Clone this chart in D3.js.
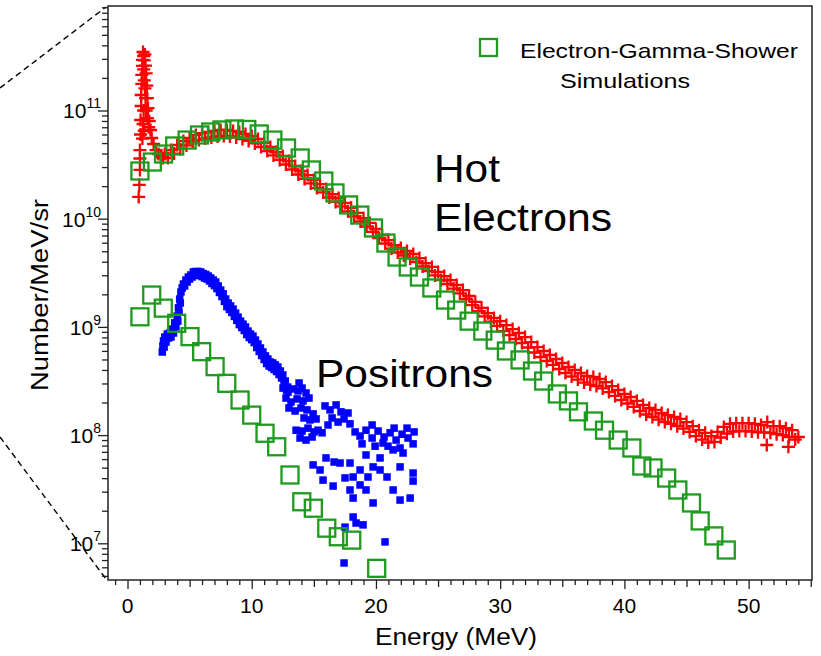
<!DOCTYPE html>
<html>
<head>
<meta charset="utf-8">
<script src="https://cdn.jsdelivr.net/npm/d3@7"></script>
<style>
body { margin: 0; background: #fff; }
text { font-family: "Liberation Sans", Arial, Helvetica, sans-serif; fill: #000; }
</style>
</head>
<body>
<div id="chart"></div>
<script>
// measured hot electrons [energy MeV, number/MeV/sr]
var electrons = [
  [0.90,1.59e10],[0.95,2.05e10],[1.00,2.82e10],[1.00,3.6e10],[1.00,4.31e10],[1.05,6.0e10],[1.05,8.17e10],[1.10,1.1e11],
  [1.10,1.39e11],[1.15,1.76e11],[1.15,2.13e11],[1.20,2.58e11],[1.20,2.93e11],[1.25,3.47e11],
  [1.30,3.19e11],[1.35,2.9e11],[1.40,3.3e11],[1.45,2.6e11],[1.50,2.2e11],[1.30,2.4e11],[1.35,1.9e11],[1.40,1.6e11],
  [1.45,1.3e11],[1.30,1.0e11],[1.25,7.5e10],[1.35,6.5e10],[1.20,5.5e10],[1.50,1.0e11],[1.55,1.7e11],[1.60,1.3e11],
  [1.60,8.5e10],[1.65,1.05e11],[1.70,7.0e10],[1.75,8.0e10],
  [1.85,6.6e10],[1.95,5.57e10],[2.10,4.9e10],[2.30,4.31e10],[2.50,3.96e10],[2.70,3.72e10],[2.85,3.64e10],
  [3.00,3.96e10],[3.25,3.64e10],[3.50,4.32e10],[3.75,4.00e10],[4.00,4.80e10],[4.25,4.41e10],[4.50,5.23e10],[4.75,4.75e10],
  [5.00,5.57e10],[5.25,5.06e10],[5.50,5.94e10],[5.75,5.33e10],[6.00,6.19e10],[6.25,5.51e10],[6.50,6.33e10],[6.75,5.63e10],
  [7.00,6.47e10],[7.25,5.75e10],[7.50,6.61e10],[7.75,5.81e10],[8.00,6.61e10],[8.25,5.75e10],[8.50,6.47e10],[8.75,5.63e10],
  [9.00,6.33e10],[9.25,5.45e10],[9.50,6.07e10],[9.75,5.23e10],[10.00,5.81e10],[10.25,4.96e10],[10.50,5.45e10],[10.75,4.60e10],
  [11.00,5.01e10],[11.25,4.22e10],[11.50,4.60e10],[11.75,3.84e10],[12.00,4.13e10],[12.25,3.49e10],[12.50,3.80e10],[12.75,3.17e10],
  [13.00,3.41e10],[13.25,2.85e10],[13.50,3.07e10],[13.75,2.56e10],[14.00,2.76e10],[14.25,2.33e10],[14.50,2.53e10],[14.75,2.12e10],
  [15.00,2.28e10],[15.25,1.92e10],[15.50,2.09e10],[15.75,1.75e10],[16.00,1.88e10],[16.25,1.57e10],[16.50,1.69e10],[16.75,1.43e10],
  [17.00,1.55e10],[17.25,1.30e10],[17.50,1.40e10],[17.75,1.17e10],[18.00,1.26e10],[18.25,1.05e10],[18.50,1.13e10],[18.75,9.42e9],
  [19.00,1.01e10],[19.25,8.47e9],[19.50,9.13e9],[19.75,7.54e9],[20.00,8.03e9],[20.25,6.63e9],[20.50,7.07e9],[20.75,5.90e9],
  [21.00,6.35e9],[21.25,5.30e9],[21.50,5.71e9],[21.75,4.87e9],[22.00,5.36e9],[22.25,4.57e9],[22.50,5.03e9],[22.75,4.29e9],
  [23.00,4.72e9],[23.25,3.98e9],[23.50,4.33e9],[23.75,3.62e9],[24.00,3.89e9],[24.25,3.28e9],[24.50,3.58e9],[24.75,2.99e9],
  [25.00,3.22e9],[25.25,2.71e9],[25.50,2.95e9],[25.75,2.49e9],[26.00,2.71e9],[26.25,2.26e9],[26.50,2.44e9],[26.75,2.04e9],
  [27.00,2.19e9],[27.25,1.81e9],[27.50,1.93e9],[27.75,1.59e9],[28.00,1.70e9],[28.25,1.40e9],[28.50,1.50e9],[28.75,1.25e9],
  [29.00,1.34e9],[29.25,1.12e9],[29.50,1.21e9],[29.75,1.02e9],[30.00,1.13e9],[30.25,9.15e8],[30.50,1.04e9],[30.75,8.41e8],
  [31.00,9.55e8],[31.25,7.73e8],[31.50,8.78e8],[31.75,7.10e8],[32.00,8.06e8],[32.25,6.45e8],[32.50,7.24e8],[32.75,5.80e8],
  [33.00,6.51e8],[33.25,5.27e8],[33.50,5.99e8],[33.75,4.84e8],[34.00,5.50e8],[34.25,4.45e8],[34.50,5.05e8],[34.75,4.08e8],
  [35.00,4.64e8],[35.25,3.75e8],[35.50,4.26e8],[35.75,3.48e8],[36.00,4.00e8],[36.25,3.26e8],[36.50,3.75e8],[36.75,3.06e8],
  [37.00,3.52e8],[37.25,2.93e8],[37.50,3.45e8],[37.75,2.84e8],[38.00,3.30e8],[38.25,2.70e8],[38.50,3.09e8],[38.75,2.50e8],
  [39.00,2.84e8],[39.25,2.30e8],[39.50,2.61e8],[39.75,2.11e8],[40.00,2.40e8],[40.25,1.96e8],[40.50,2.25e8],[40.75,1.82e8],
  [41.00,2.07e8],[41.25,1.67e8],[41.50,1.90e8],[41.75,1.55e8],[42.00,1.78e8],[42.25,1.47e8],[42.50,1.71e8],[42.75,1.39e8],
  [43.00,1.60e8],[43.25,1.32e8],[43.50,1.53e8],[43.75,1.27e8],[44.00,1.47e8],[44.25,1.21e8],[44.50,1.41e8],[44.75,1.15e8],
  [45.00,1.32e8],[45.25,1.07e8],[45.50,1.21e8],[45.75,9.80e7],[46.00,1.11e8],[46.25,9.10e7],[46.50,1.05e8],[46.75,8.54e7],
  [47.00,9.80e7],[47.25,8.64e7],[47.50,1.07e8],[47.75,9.50e7],[48.00,1.19e8],[48.25,1.03e8],[48.50,1.27e8],[48.75,1.08e8],
  [49.00,1.29e8],[49.25,1.09e8],[49.50,1.29e8],[49.75,1.09e8],[50.00,1.29e8],[50.25,1.08e8],[50.50,1.27e8],[50.75,1.06e8],
  [51.00,1.24e8],[51.25,1.06e8],[51.50,1.32e8],[51.75,1.05e8],[52.00,1.21e8],[52.25,1.02e8],[52.50,1.21e8],[52.75,1.00e8],
  [53.00,1.16e8],[53.25,9.60e7],[53.50,1.11e8],[53.75,9.10e7],[54.00,9.60e7],[51.46,8.1e7],[53.20,7.8e7]
];

// measured positrons
var positrons = [
  [2.80,5.86e8],[2.85,6.66e8],[2.90,7.41e8],[2.95,6.51e8],[3.00,8.06e8],[3.10,7.24e8],[3.20,8.59e8],[3.30,7.89e8],
  [3.40,8.78e8],[3.50,8.06e8],[3.60,9.55e8],[3.70,8.78e8],[3.80,1.09e9],[3.90,1.0e9],[4.00,1.26e9],[4.05,1.13e9],
  [4.10,1.50e9],[4.15,1.37e9],[4.20,1.81e9],[4.25,1.66e9],[4.30,2.10e9],[4.40,2.29e9],[4.50,2.49e9],[4.60,2.39e9],
  [4.70,2.71e9],[4.80,2.60e9],[4.90,2.89e9],[5.00,2.77e9],[5.10,3.02e9],[5.20,2.89e9],[5.30,3.22e9],[5.40,2.99e9],
  [5.50,3.25e9],[5.60,3.02e9],[5.70,3.25e9],[5.80,2.99e9],[5.90,3.22e9],[6.00,2.92e9],[6.10,3.11e9],[6.20,2.83e9],
  [6.30,3.05e9],[6.40,2.77e9],[6.50,2.95e9],[6.60,2.66e9],[6.70,2.83e9],[6.80,2.52e9],[6.90,2.71e9],[7.00,2.41e9],
  [7.10,2.60e9],[7.20,2.26e9],[7.30,2.39e9],[7.40,2.08e9],[7.50,2.19e9],[7.60,1.91e9],[7.70,2.02e9],[7.80,1.72e9],
  [7.90,1.81e9],[8.00,1.54e9],[8.10,1.66e9],[8.20,1.45e9],[8.30,1.56e9],[8.40,1.36e9],[8.50,1.46e9],[8.60,1.25e9],
  [8.70,1.34e9],[8.80,1.15e9],[8.90,1.23e9],[9.00,1.05e9],[9.10,1.13e9],[9.20,9.87e8],[9.30,1.06e9],[9.40,9.26e8],
  [9.50,9.98e8],[9.60,8.50e8],[9.70,9.15e8],[9.80,7.97e8],[9.90,8.59e8],[10.00,7.63e8],[10.10,8.22e8],[10.20,7.17e8],
  [10.30,7.55e8],[10.40,6.45e8],[10.50,6.95e8],[10.60,5.93e8],[10.70,6.38e8],[10.80,5.44e8],[10.90,5.86e8],[11.00,5.00e8],
  [11.10,5.39e8],[11.20,4.59e8],[11.30,5.05e8],[11.40,4.35e8],[11.50,4.74e8],[11.60,4.21e8],[11.70,4.64e8],[11.80,4.04e8],
  [11.90,4.45e8],[12.00,3.87e8],[12.10,4.26e8],[12.20,3.63e8],[12.30,3.91e8],[12.40,3.37e8],[12.50,3.60e8],[12.60,2.96e8],
  [12.70,3.16e8],[12.80,2.61e8],[12.90,2.78e8],
  [12.52,2.72e8],[12.92,2.50e8],[13.33,2.67e8],[13.73,2.56e8],[14.05,2.72e8],[14.37,2.45e8],[12.76,2.20e8],[13.16,2.02e8],
  [13.65,2.16e8],[14.13,2.07e8],[14.61,2.20e8],[13.00,1.78e8],[13.49,1.67e8],[13.97,1.78e8],[14.45,1.71e8],[14.94,1.57e8],
  [13.81,3.03e8],[14.21,1.44e8],[14.69,1.38e8],[15.18,1.41e8],
  [13.57,1.11e8],[14.05,1.09e8],[14.53,1.16e8],[15.02,1.07e8],[13.89,9.4e7],[14.37,9.0e7],[14.86,9.6e7],[15.34,1.11e8],[15.66,1.05e8],
  [15.90,1.86e8],[16.30,1.71e8],[16.79,1.90e8],[17.19,1.64e8],[16.47,1.44e8],[16.95,1.32e8],[17.43,1.41e8],[16.14,1.24e8],[17.75,1.60e8],
  [18.32,1.07e8],[18.72,9.8e7],[19.20,1.11e8],[19.69,9.4e7],[20.17,1.09e8],[20.65,9.6e7],[21.14,1.05e8],[21.62,9.0e7],
  [22.10,1.02e8],[22.58,9.4e7],[23.07,1.07e8],[18.88,8.3e7],[19.93,7.9e7],[20.97,7.9e7],[21.94,7.6e7],[22.99,8.3e7],
  [21.46,1.16e8],[22.50,1.16e8],[19.69,1.24e8],[17.91,1.27e8],
  [14.94,5.3e7],[15.50,4.76e7],[15.98,6.15e7],[16.63,5.64e7],[17.11,5.52e7],[17.91,5.52e7],[15.74,3.84e7],[16.55,3.38e7],
  [17.51,4.02e7],[18.16,4.10e7],[17.91,3.11e7],[18.16,2.62e7],[18.72,4.76e7],[19.77,5.08e7],[19.36,4.10e7],[19.20,3.11e7],
  [19.77,2.36e7],[20.33,4.76e7],[20.89,4.10e7],[21.38,3.11e7],[21.94,2.51e7],[22.75,2.62e7],[21.94,5.08e7],[22.99,4.46e7],
  [22.99,3.76e7],[22.18,6.83e7],[21.38,7.30e7],[20.57,8.45e7],[19.20,6.55e7],[20.33,6.15e7],[18.72,3.46e7],
  [18.16,1.75e7],[18.96,1.48e7],[17.51,1.41e7],[18.40,1.54e7],[20.73,1.03e7],[17.43,6.58e6]
];

// electron-gamma-shower simulations
var simElectrons = [
  [1.0,2.76e10],[2.0,3.34e10],[2.9,3.96e10],[3.8,4.70e10],[4.8,5.33e10],[5.8,5.94e10],[6.7,6.33e10],[7.6,6.61e10],
  [8.6,6.75e10],[9.6,6.68e10],[10.6,6.07e10],[11.7,5.33e10],[12.8,4.50e10],[13.9,3.64e10],[14.8,2.82e10],[15.8,2.23e10],
  [16.7,1.73e10],[17.8,1.34e10],[18.7,1.08e10],[19.8,8.21e9],[20.8,5.96e9],[21.7,4.42e9],[22.6,3.58e9],[23.5,2.89e9],
  [24.5,2.29e9],[25.6,1.77e9],[26.5,1.43e9],[27.5,1.13e9],[28.6,9.15e8],[29.6,7.55e8],[30.5,5.99e8],[31.6,4.95e8],
  [32.6,3.91e8],[33.5,3.16e8],[34.6,2.40e8],[35.5,2.07e8],[36.3,1.64e8],[37.5,1.35e8],[38.4,1.11e8],[39.5,9.0e7],
  [40.6,7.6e7],[41.4,5.18e7],[42.3,4.97e7],[43.4,4.01e7],[44.3,3.11e7],[45.4,2.36e7],[46.1,1.61e7],[47.2,1.17e7],[48.2,8.67e6]
];
var simPositrons = [
  [1.00,1.24e9],[1.95,1.97e9],[2.88,1.49e9],[3.96,1.08e9],[5.03,8.13e8],[5.97,5.90e8],[7.05,4.29e8],[7.99,3.01e8],
  [9.06,2.11e8],[10.00,1.53e8],[11.07,1.04e8],[12.01,7.8e7],[13.08,4.28e7],[14.03,2.42e7],[14.96,2.11e7],[16.04,1.38e7],
  [16.97,1.15e7],[18.05,1.07e7],[20.06,5.87e6]
];

var xTicks = [0, 10, 20, 30, 40, 50];
var yExps = [7, 8, 9, 10, 11];

var width = 821, height = 656;
var margin = {top: 6, right: 9, bottom: 76, left: 108};
var plotW = width - margin.left - margin.right,
    plotH = height - margin.top - margin.bottom;

var svg = d3.select("#chart").append("svg")
    .attr("width", width)
    .attr("height", height);

var x = d3.scaleLinear()
    .domain([-1.57, 55.1])
    .range([margin.left, margin.left + plotW]);

var y = d3.scaleLog()
    .domain([4.58e6, 9.24e11])
    .range([margin.top + plotH, margin.top]);

var green = "#1e9a1e";

// zoom-in dashed guide lines on the left
svg.append("line").attr("x1", 0).attr("y1", 88).attr("x2", margin.left - 2).attr("y2", margin.top + 1)
    .attr("stroke", "#000").attr("stroke-width", 1.4).attr("stroke-dasharray", "6,4");
svg.append("line").attr("x1", 0).attr("y1", 437).attr("x2", margin.left - 2).attr("y2", margin.top + plotH - 1)
    .attr("stroke", "#000").attr("stroke-width", 1.4).attr("stroke-dasharray", "6,4");

svg.append("clipPath").attr("id", "plotclip")
  .append("rect")
    .attr("x", margin.left).attr("y", margin.top)
    .attr("width", plotW).attr("height", plotH);

var plot = svg.append("g").attr("clip-path", "url(#plotclip)");

plot.append("g").selectAll("path")
    .data(electrons).enter()
    .append("path")
    .attr("d", "M-6.5,0H6.5M0,-6.5V6.5")
    .attr("transform", function(d) { return "translate(" + x(d[0]) + "," + y(d[1]) + ")"; })
    .attr("stroke", "#ff0000")
    .attr("stroke-width", 2.3)
    .attr("fill", "none");

var bs = 7.5;
plot.append("g").selectAll("rect")
    .data(positrons).enter()
    .append("rect")
    .attr("x", function(d) { return x(d[0]) - bs / 2; })
    .attr("y", function(d) { return y(d[1]) - bs / 2; })
    .attr("width", bs).attr("height", bs)
    .attr("fill", "#0000ff");

var gs = 17;
plot.append("g").selectAll("rect")
    .data(simElectrons.concat(simPositrons)).enter()
    .append("rect")
    .attr("x", function(d) { return x(d[0]) - gs / 2; })
    .attr("y", function(d) { return y(d[1]) - gs / 2; })
    .attr("width", gs).attr("height", gs)
    .attr("fill", "none")
    .attr("stroke", green)
    .attr("stroke-width", 2.3);

// frame
svg.append("rect")
    .attr("x", margin.left).attr("y", margin.top)
    .attr("width", plotW).attr("height", plotH)
    .attr("fill", "none").attr("stroke", "#222").attr("stroke-width", 1.5);

// x axis ticks
var xMinor = d3.range(-1, 56).filter(function(v) { return v % 5 != 0; });
var xMid = d3.range(5, 56, 10);
var xg = svg.append("g").attr("transform", "translate(0," + (margin.top + plotH) + ")");
xg.append("g").call(d3.axisBottom(x).tickValues(xTicks).tickSize(9).tickSizeOuter(0).tickFormat(""));
xg.append("g").call(d3.axisBottom(x).tickValues(xMid).tickSize(7).tickSizeOuter(0).tickFormat(""));
xg.append("g").call(d3.axisBottom(x).tickValues(xMinor).tickSize(5).tickSizeOuter(0).tickFormat(""));
xg.selectAll(".domain").remove();
xg.selectAll("line").attr("stroke", "#222").attr("stroke-width", 1.3);

svg.append("g").selectAll("text")
    .data(xTicks).enter()
    .append("text")
    .attr("x", function(d) { return x(d); })
    .attr("y", 613)
    .attr("text-anchor", "middle")
    .attr("font-size", 21)
    .text(function(d) { return d; });

// y axis ticks
var yMinor = [];
yExps.concat([6]).forEach(function(e) {
  for (var m = 2; m <= 9; m++) {
    var v = m * Math.pow(10, e);
    if (v >= y.domain()[0] && v <= y.domain()[1]) yMinor.push(v);
  }
});
var yg = svg.append("g").attr("transform", "translate(" + margin.left + ",0)");
yg.append("g").call(d3.axisLeft(y).tickValues(yExps.map(function(e) { return Math.pow(10, e); }))
    .tickSize(10).tickSizeOuter(0).tickFormat(""));
yg.append("g").call(d3.axisLeft(y).tickValues(yMinor).tickSize(6).tickSizeOuter(0).tickFormat(""));
yg.selectAll(".domain").remove();
yg.selectAll("line").attr("stroke", "#222").attr("stroke-width", 1.3);

var ylab = svg.append("g").selectAll("text")
    .data(yExps).enter()
    .append("text")
    .attr("x", 101)
    .attr("y", function(e) { return y(Math.pow(10, e)) + 8; })
    .attr("text-anchor", "end")
    .attr("font-size", 21);
ylab.append("tspan").text("10");
ylab.append("tspan").attr("dy", -10).attr("font-size", 14).text(function(e) { return e; });

// axis titles
svg.append("text")
    .attr("x", 456).attr("y", 645)
    .attr("text-anchor", "middle")
    .attr("font-size", 23)
    .attr("textLength", 162)
    .attr("lengthAdjust", "spacingAndGlyphs")
    .text("Energy (MeV)");

svg.append("text")
    .attr("transform", "translate(48,295) rotate(-90)")
    .attr("text-anchor", "middle")
    .attr("font-size", 23)
    .attr("textLength", 192)
    .attr("lengthAdjust", "spacingAndGlyphs")
    .text("Number/MeV/sr");

// in-plot labels
var labels = [
  {t: "Hot", x: 434, y: 182, w: 66},
  {t: "Electrons", x: 434, y: 231, w: 178},
  {t: "Positrons", x: 316, y: 387, w: 177}
];
svg.append("g").selectAll("text")
    .data(labels).enter()
    .append("text")
    .attr("x", function(d) { return d.x; })
    .attr("y", function(d) { return d.y; })
    .attr("font-size", 39)
    .attr("textLength", function(d) { return d.w; })
    .attr("lengthAdjust", "spacingAndGlyphs")
    .text(function(d) { return d.t; });

// legend
svg.append("rect")
    .attr("x", 480).attr("y", 39).attr("width", gs).attr("height", gs)
    .attr("fill", "none").attr("stroke", green).attr("stroke-width", 2.3);
svg.append("text")
    .attr("x", 520).attr("y", 58)
    .attr("font-size", 21)
    .attr("textLength", 278)
    .attr("lengthAdjust", "spacingAndGlyphs")
    .text("Electron-Gamma-Shower");
svg.append("text")
    .attr("x", 560).attr("y", 88)
    .attr("font-size", 21)
    .attr("textLength", 130)
    .attr("lengthAdjust", "spacingAndGlyphs")
    .text("Simulations");
</script>
</body>
</html>
